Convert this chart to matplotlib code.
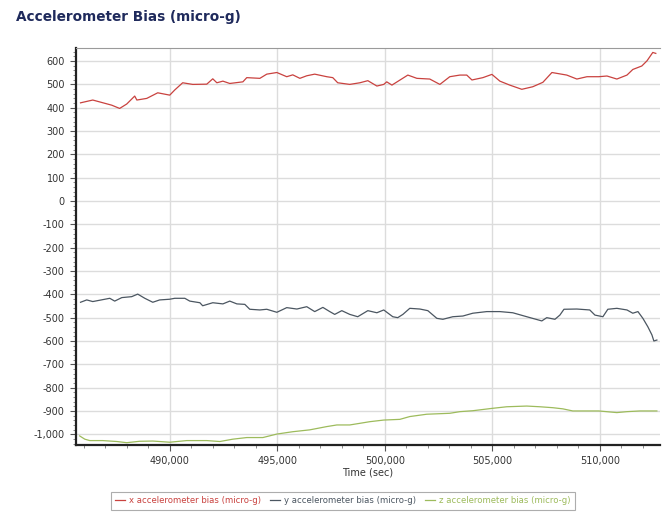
import matplotlib.pyplot as plt
from matplotlib.ticker import MultipleLocator, FuncFormatter

# x accelerometer bias
x_time = [485850, 486420, 487300, 487670, 488000, 488370, 488470, 488930, 489440, 490000,
          490230, 490600, 491070, 491720, 492000, 492190, 492470, 492790, 493400, 493580,
          494190, 494510, 494980, 495440, 495720, 496050, 496370, 496740, 497300, 497580,
          497810, 498370, 498840, 499210, 499630, 499950, 500090, 500330, 501070, 501490,
          502090, 502560, 503020, 503490, 503810, 504050, 504560, 504980, 505350, 505810,
          506370, 506880, 507350, 507770, 508460, 508930, 509400, 509950, 510330, 510790,
          511260, 511530, 511950, 512190, 512460, 512600]
x_bias = [421, 433, 411, 397, 416, 450, 433, 440, 464, 454,
          476, 507, 500, 501, 524, 507, 514, 504, 511, 529,
          526, 544, 551, 533, 541, 526, 537, 544, 533, 529,
          507, 500, 507, 516, 493, 500, 511, 497, 540, 526,
          523, 500, 533, 540, 540, 519, 529, 543, 514, 497,
          479, 490, 509, 551, 540, 523, 533, 533, 536, 523,
          540, 564, 579, 601, 637, 633]

# y accelerometer bias
y_time = [485850, 486140, 486420, 487210, 487440, 487770, 488230, 488510, 488840, 489210,
          489530, 490000, 490230, 490700, 490930, 491400, 491530, 492000, 492470, 492790,
          493120, 493490, 493720, 494190, 494510, 494980, 495440, 495910, 496370, 496740,
          497120, 497440, 497670, 498000, 498370, 498740, 499210, 499630, 499950, 500370,
          500600, 500840, 501160, 501630, 502000, 502420, 502700, 503160, 503630, 504090,
          504740, 505350, 505950, 506600, 507300, 507530, 507910, 508140, 508330, 508930,
          509530, 509770, 510140, 510370, 510790, 511260, 511530, 511770, 512000, 512230,
          512420, 512510, 512650]
y_bias = [-434, -424, -431, -417, -429, -414, -410, -399, -417, -434,
          -424, -421, -417, -417, -429, -436, -449, -436, -441, -429,
          -441, -443, -464, -467, -464, -477, -457, -463, -453, -474,
          -456, -474, -486, -470, -486, -496, -470, -479, -467, -496,
          -500, -486, -460, -463, -470, -503, -507, -496, -493, -481,
          -474, -474, -479, -496, -514, -500, -507, -489, -464, -463,
          -467, -489, -496, -464, -460, -467, -481, -474, -503, -539,
          -574, -600, -596]

# z accelerometer bias
z_time = [485810, 486050, 486280, 486880, 487540, 488000, 488600, 489210, 490000, 490790,
          491720, 492330, 492930, 493580, 494330, 494980, 495720, 496510, 497300, 497770,
          498370, 498840, 499300, 499950, 500700, 501160, 501950, 503020, 503490, 504090,
          504980, 505670, 506600, 507210, 507810, 508280, 508740, 509950, 510790, 511260,
          511860, 512650]
z_bias = [-1007, -1021, -1027, -1027, -1031, -1036, -1030, -1029, -1034, -1027,
          -1027, -1031, -1021, -1014, -1014, -999, -989, -981, -967, -960,
          -960, -953, -946, -939, -936, -924, -914, -910, -903, -899,
          -889, -882, -879, -882, -886, -891, -900, -900, -907, -903,
          -900, -900]

fig = plt.figure(figsize=(6.62, 5.18), dpi=100)
ax = fig.add_axes([0.1148, 0.1409, 0.882, 0.7664])

ax.plot(x_time, x_bias, color='#c9423f', lw=0.9, label='x accelerometer bias (micro-g)')
ax.plot(y_time, y_bias, color='#4b5661', lw=0.9, label='y accelerometer bias (micro-g)')
ax.plot(z_time, z_bias, color='#9dbb5c', lw=0.9, label='z accelerometer bias (micro-g)')

ax.set_xlim(485640, 512790)
ax.set_ylim(-1046, 656)

ax.xaxis.set_major_locator(MultipleLocator(5000))
ax.xaxis.set_minor_locator(MultipleLocator(1000))
ax.yaxis.set_major_locator(MultipleLocator(100))
ax.yaxis.set_minor_locator(MultipleLocator(20))
fmt = FuncFormatter(lambda v, p: f'{int(round(v)):,}')
ax.xaxis.set_major_formatter(fmt)
ax.yaxis.set_major_formatter(fmt)

ax.grid(True, which='major', color='#dcdcdc', lw=1.0)
ax.set_axisbelow(True)

ax.spines['right'].set_visible(False)
ax.spines['top'].set_color('#9a9a9a')
ax.spines['top'].set_linewidth(0.8)
ax.spines['left'].set_linewidth(1.6)
ax.spines['bottom'].set_linewidth(1.6)
ax.spines['left'].set_color('#222222')
ax.spines['bottom'].set_color('#222222')

ax.tick_params(axis='both', which='major', labelsize=7, labelcolor='#333333',
               color='#555555', length=4, width=0.8, pad=4)
ax.tick_params(axis='both', which='minor', color='#777777', length=2, width=0.6)

ax.set_xlabel('Time (sec)', fontsize=7, color='#333333', labelpad=1)

fig.text(0.024, 0.967, 'Accelerometer Bias (micro-g)', fontsize=9.8, fontweight='bold',
         color='#1f2a5c', ha='left', va='center')

leg = ax.legend(loc='center', bbox_to_anchor=(0.518, 0.033), bbox_transform=fig.transFigure,
                ncol=3, fontsize=6.1, frameon=True, fancybox=False, handlelength=1.2,
                handletextpad=0.5, columnspacing=1.0, borderpad=0.5)
leg.get_frame().set_edgecolor('#999999')
leg.get_frame().set_linewidth(0.8)
for txt, line in zip(leg.get_texts(), leg.get_lines()):
    txt.set_color(line.get_color())

fig.savefig('out.png', dpi=100)
